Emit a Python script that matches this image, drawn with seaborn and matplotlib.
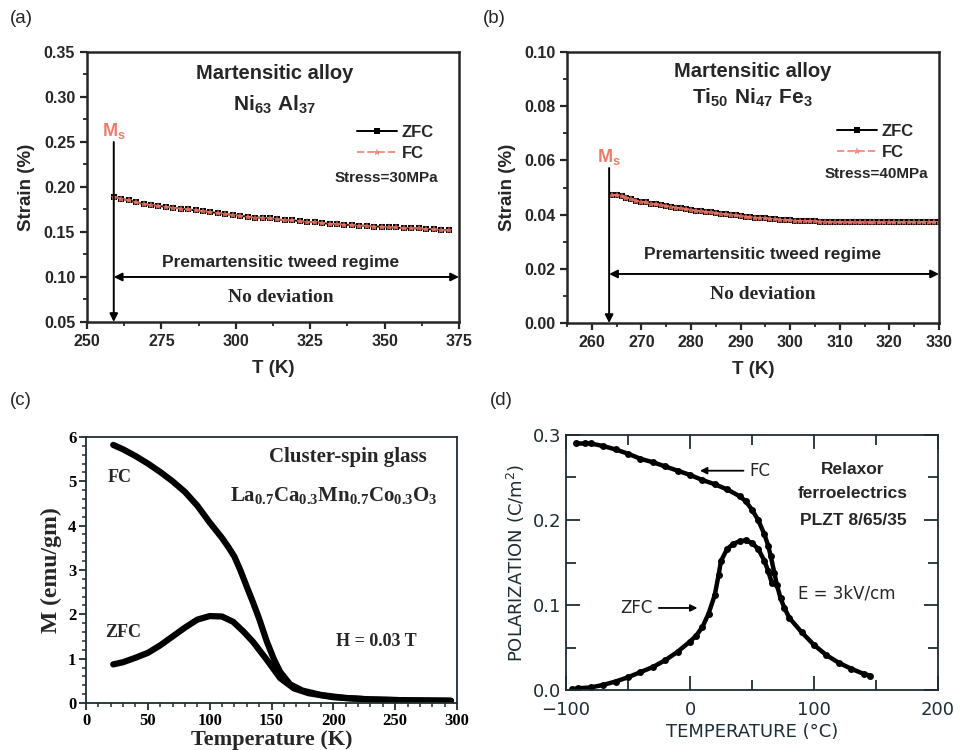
import numpy as np
import seaborn as sns
import matplotlib.pyplot as plt
from matplotlib.ticker import MultipleLocator

sns.set_style("ticks")
plt.rcParams['font.family'] = ['Liberation Sans', 'DejaVu Sans']
plt.rcParams['mathtext.fontset'] = 'custom'
plt.rcParams['mathtext.sf'] = 'Liberation Sans:bold'
plt.rcParams['mathtext.bf'] = 'Liberation Serif:bold'
plt.rcParams['mathtext.rm'] = 'DejaVu Sans'

# ---------- data ----------
# (a) Ni63Al37, 30 MPa
t_a = [259, 261.5, 264, 266.5, 269, 271.5, 274, 276.5, 279, 281.5, 284, 286.5,
       289, 291.5, 294, 296.5, 299, 301.5, 304, 306.5, 309, 311.5, 314, 316.5,
       319, 321.5, 324, 326.5, 329, 331.5, 334, 336.5, 339, 341.5, 344, 346.5,
       349, 351.5, 354, 356.5, 359, 361.5, 364, 366.5, 369, 371.5]
zfc_a = [0.189, 0.187, 0.185, 0.183, 0.181, 0.180, 0.179, 0.178, 0.177, 0.176,
         0.175, 0.174, 0.173, 0.172, 0.171, 0.170, 0.169, 0.168, 0.167, 0.166,
         0.166, 0.165, 0.164, 0.163, 0.163, 0.162, 0.161, 0.161, 0.160, 0.159,
         0.159, 0.158, 0.158, 0.157, 0.157, 0.156, 0.156, 0.155, 0.155, 0.154,
         0.154, 0.154, 0.153, 0.153, 0.152, 0.152]
fc_a = list(zfc_a)      # no deviation between ZFC and FC

# (b) Ti50Ni47Fe3, 40 MPa
t_b = [264, 265, 266, 267, 268, 269, 270, 271, 272, 273, 274, 275, 276, 277,
       278, 279, 280, 281, 282, 283, 284, 285, 286, 287, 288, 289, 290, 291,
       292, 293, 294, 295, 296, 297, 298, 299, 300, 301, 302, 303, 304, 305,
       306, 307, 308, 309, 310, 311, 312, 313, 314, 315, 316, 317, 318, 319,
       320, 321, 322, 323, 324, 325, 326, 327, 328, 329, 330]
zfc_b = [0.0473, 0.0472, 0.0468, 0.0463, 0.0458, 0.0452, 0.0448, 0.0445, 0.0441,
         0.0438, 0.0435, 0.0432, 0.0429, 0.0426, 0.0423, 0.0420, 0.0418, 0.0415,
         0.0413, 0.0410, 0.0408, 0.0406, 0.0403, 0.0401, 0.0399, 0.0397, 0.0395,
         0.0393, 0.0391, 0.0389, 0.0388, 0.0386, 0.0385, 0.0383, 0.0382, 0.0381,
         0.0379, 0.0378, 0.0377, 0.0376, 0.0376, 0.0375, 0.0374, 0.0374, 0.0373,
         0.0373, 0.0372, 0.0372, 0.0372, 0.0371, 0.0371, 0.0371, 0.0371, 0.0371,
         0.0371, 0.0371, 0.0371, 0.0371, 0.0371, 0.0372, 0.0372, 0.0372, 0.0372,
         0.0372, 0.0373, 0.0373, 0.0373]
fc_b = list(zfc_b)

# (c) cluster-spin glass La0.7Ca0.3Mn0.7Co0.3O3
t_c_fc = [22, 30, 40, 50, 60, 70, 80, 90, 100, 110, 115, 120, 125, 130, 135,
          140, 146, 152, 157, 165, 175, 190, 210, 230, 260, 295]
m_c_fc = [5.82, 5.72, 5.57, 5.40, 5.21, 5.00, 4.76, 4.45, 4.07, 3.72, 3.52,
          3.30, 2.98, 2.62, 2.27, 1.90, 1.40, 0.98, 0.70, 0.42, 0.28, 0.18,
          0.11, 0.08, 0.06, 0.05]
t_c_zfc = [22, 30, 40, 50, 60, 70, 80, 90, 100, 110, 119, 127, 135, 146, 157,
           168, 180, 200, 230, 260, 295]
m_c_zfc = [0.87, 0.92, 1.02, 1.13, 1.30, 1.50, 1.70, 1.88, 1.96, 1.95, 1.83,
           1.62, 1.38, 0.98, 0.56, 0.33, 0.22, 0.13, 0.08, 0.06, 0.05]

# (d) relaxor PLZT 8/65/35
t_d_fc = [-92, -85, -80, -70, -60, -50, -40, -30, -20, -10, 0, 10, 20, 30, 40,
          45, 50, 55, 60, 63, 65, 68, 70, 73, 76, 80, 90, 100, 110, 120, 130,
          140, 145]
p_d_fc = [0.290, 0.290, 0.290, 0.287, 0.283, 0.278, 0.272, 0.268, 0.263, 0.258,
          0.253, 0.247, 0.242, 0.236, 0.228, 0.222, 0.212, 0.200, 0.183, 0.170,
          0.158, 0.138, 0.124, 0.108, 0.097, 0.085, 0.068, 0.053, 0.041, 0.032,
          0.025, 0.019, 0.017]
t_d_zfc = [-95, -90, -80, -70, -60, -50, -40, -30, -20, -10, 0, 5, 10, 15, 20,
           23, 25, 30, 35, 40, 45, 50, 55, 60, 63, 66]
p_d_zfc = [0.001, 0.002, 0.003, 0.006, 0.010, 0.015, 0.021, 0.027, 0.035, 0.045,
           0.057, 0.064, 0.074, 0.090, 0.112, 0.135, 0.152, 0.166, 0.172, 0.175,
           0.176, 0.173, 0.166, 0.152, 0.140, 0.126]

# ---------- figure ----------
fig = plt.figure(figsize=(9.6, 7.5), dpi=100)
ax_a = fig.add_axes([0.0906, 0.5707, 0.3875, 0.360])
ax_b = fig.add_axes([0.5906, 0.5693, 0.3875, 0.3613])
ax_c = fig.add_axes([0.0896, 0.0627, 0.3865, 0.3547])
ax_d = fig.add_axes([0.5896, 0.0800, 0.3875, 0.3400])

RED = '#f07a68'
BOLD = dict(fontweight='bold')


def strain_panel(ax, t, zfc, fc, xlim, ylim, xmaj, ymaj, ms_x, ms_top,
                 arrow_y, title2, stress, fmt, txt):
    sns.lineplot(x=t, y=zfc, ax=ax, color='black', lw=1.4, marker='s',
                 markersize=4.5, markeredgewidth=0, label='ZFC')
    sns.lineplot(x=t, y=fc, ax=ax, color=RED, lw=1.4, ls='--', marker='*',
                 markersize=6, markeredgewidth=0, alpha=0.8, label='FC')
    ax.set_xlim(*xlim); ax.set_ylim(*ylim)
    ax.xaxis.set_major_locator(MultipleLocator(xmaj))
    ax.xaxis.set_minor_locator(MultipleLocator(xmaj / 2))
    ax.yaxis.set_major_locator(MultipleLocator(ymaj))
    ax.yaxis.set_minor_locator(MultipleLocator(ymaj / 2))
    ax.yaxis.set_major_formatter(plt.FormatStrFormatter(fmt))
    ax.tick_params(which='major', direction='out', length=5, width=1.6,
                   labelsize=11.5)
    ax.tick_params(which='minor', direction='out', length=3, width=1.3)
    for s in ax.spines.values():
        s.set_linewidth(1.8)
    plt.setp(ax.get_xticklabels() + ax.get_yticklabels(), fontweight='bold')
    ax.set_xlabel('T (K)', fontsize=13.5, fontweight='bold', labelpad=8)
    ax.set_ylabel('Strain (%)', fontsize=13.5, fontweight='bold', labelpad=6)

    # Ms arrow
    ax.annotate('', xy=(ms_x, ylim[0]), xytext=(ms_x, ms_top),
                arrowprops=dict(arrowstyle='-|>', color='black', lw=1.4,
                                mutation_scale=12, shrinkA=0, shrinkB=0))
    ax.text(ms_x, ms_top + (ylim[1] - ylim[0]) * 0.04, r'$\mathsf{M_s}$',
            color=RED, fontsize=13, ha='center', va='center')
    # regime arrow
    ax.annotate('', xy=(ms_x, arrow_y), xytext=(xlim[1], arrow_y),
                arrowprops=dict(arrowstyle='<|-|>', color='black', lw=1.4,
                                mutation_scale=12, shrinkA=0, shrinkB=0))
    tx, t1, t2, t3, t4, lx, ly, sy = txt
    ax.text(tx, t1, 'Martensitic alloy', ha='center', va='center',
            fontsize=14.5, **BOLD)
    ax.text(tx, t2, title2, ha='center', va='center', fontsize=15)
    ax.text(tx + 2, t3, 'Premartensitic tweed regime', ha='center',
            va='center', fontsize=12.5, **BOLD)
    ax.text(tx + 2, t4, 'No deviation', ha='center', va='center',
            fontsize=14, fontfamily='Liberation Serif', **BOLD)
    ax.text(lx, sy, stress, ha='right', va='center', fontsize=11, **BOLD)
    leg = ax.legend(loc='upper right', bbox_to_anchor=(0.955, ly),
                    frameon=False, handlelength=2.4, handletextpad=0.3,
                    borderpad=0, labelspacing=0.35,
                    prop=dict(weight='bold', size=12))
    return leg


strain_panel(ax_a, t_a, zfc_a, fc_a, (250, 375), (0.05, 0.35), 25, 0.05,
             259, 0.25, 0.10, r'$\mathsf{Ni_{63}\ Al_{37}}$', 'Stress=30MPa', '%.2f',
             (313, 0.326, 0.291, 0.1156, 0.0775, 368, 0.76, 0.21))
strain_panel(ax_b, t_b, zfc_b, fc_b, (255, 330), (0.0, 0.10), 10, 0.02,
             263.5, 0.0572, 0.0181, r'$\mathsf{Ti_{50}\ Ni_{47}\ Fe_{3}}$',
             'Stress=40MPa', '%.2f',
             (292.5, 0.0928, 0.083, 0.0252, 0.0104, 327.8, 0.765, 0.0549))

# ---------- (c) ----------
ax = ax_c
sns.lineplot(x=t_c_fc, y=m_c_fc, ax=ax, color='black', lw=4.5, sort=False)
sns.lineplot(x=t_c_zfc, y=m_c_zfc, ax=ax, color='black', lw=4.5, sort=False)
ax.set_xlim(0, 300); ax.set_ylim(0, 6)
ax.xaxis.set_major_locator(MultipleLocator(50))
ax.xaxis.set_minor_locator(MultipleLocator(10))
ax.yaxis.set_major_locator(MultipleLocator(1))
ax.yaxis.set_minor_locator(MultipleLocator(0.2))
ax.tick_params(which='major', direction='out', length=5, width=1.3,
               labelsize=12, colors='#1e2d33', pad=2)
ax.tick_params(which='minor', direction='out', length=3, width=1.1,
               colors='#1e2d33')
for s in ax.spines.values():
    s.set_linewidth(1.3); s.set_color('#1e2d33')
plt.setp(ax.get_xticklabels() + ax.get_yticklabels(),
         fontfamily='Liberation Serif', fontweight='bold', color='black')
ax.set_xlabel('Temperature (K)', fontsize=16, fontfamily='Liberation Serif',
              fontweight='bold', labelpad=1)
ax.set_ylabel('M (emu/gm)', fontsize=17, fontfamily='Liberation Serif',
              fontweight='bold', labelpad=4)
SERIF = dict(fontfamily='Liberation Serif', fontweight='bold')
ax.text(212, 5.55, 'Cluster-spin glass', ha='center', va='center',
        fontsize=15, **SERIF)
ax.text(200, 4.69, r'$\mathbf{La_{0.7}Ca_{0.3}Mn_{0.7}Co_{0.3}O_3}$',
        ha='center', va='center', fontsize=15)
ax.text(27.5, 5.09, 'FC', ha='center', va='center', fontsize=13, **SERIF)
ax.text(30, 1.58, 'ZFC', ha='center', va='center', fontsize=13, **SERIF)
ax.text(235, 1.38, 'H = 0.03 T', ha='center', va='center', fontsize=13,
        **SERIF)

# ---------- (d) ----------
ax = ax_d
sns.lineplot(x=t_d_fc, y=p_d_fc, ax=ax, color='black', lw=3.2, marker='o',
             markersize=5, markeredgewidth=0, sort=False)
sns.lineplot(x=t_d_zfc, y=p_d_zfc, ax=ax, color='black', lw=3.2, marker='o',
             markersize=5, markeredgewidth=0, sort=False)
ax.set_xlim(-100, 200); ax.set_ylim(0, 0.3)
ax.set_xticks([-100, 0, 100, 200])
ax.set_xticklabels(['\u2212100', '0', '100', '200'])
ax.xaxis.set_minor_locator(MultipleLocator(50))
ax.set_yticks([0, 0.1, 0.2, 0.3])
ax.set_yticklabels(['0.0', '0.1', '0.2', '0.3'])
ax.yaxis.set_minor_locator(MultipleLocator(0.05))
ax.tick_params(which='both', direction='in', top=True, right=True,
               width=1.3, labelsize=13, colors='#1e2d33')
ax.tick_params(axis='x', pad=8)
ax.tick_params(which='major', length=10)
ax.tick_params(which='minor', length=7)
for s in ax.spines.values():
    s.set_linewidth(1.3); s.set_color('#1e2d33')
plt.setp(ax.get_xticklabels() + ax.get_yticklabels(),
         fontfamily='DejaVu Sans', color='#1e2d33')
ax.set_xlabel('TEMPERATURE (\u00b0C)', fontsize=13, labelpad=3,
              fontfamily='DejaVu Sans', color='#1e2d33')
ax.set_ylabel(r'POLARIZATION (C/m$^2$)', fontsize=13, labelpad=4,
              fontfamily='DejaVu Sans', color='#1e2d33')
for y, s in [(0.259, 'Relaxor'), (0.231, 'ferroelectrics'),
             (0.199, 'PLZT 8/65/35')]:
    ax.text(131.5, y, s, ha='center', va='center', fontsize=12.5, **BOLD)
ax.annotate('FC', xy=(8, 0.258), xytext=(48, 0.258), fontsize=12,
            fontfamily='DejaVu Sans', va='center', ha='left',
            arrowprops=dict(arrowstyle='-|>', color='black', lw=1.3,
                            mutation_scale=10, shrinkA=2, shrinkB=0))
ax.annotate('ZFC', xy=(6, 0.0965), xytext=(-30, 0.0965), fontsize=12,
            fontfamily='DejaVu Sans', va='center', ha='right',
            arrowprops=dict(arrowstyle='-|>', color='black', lw=1.3,
                            mutation_scale=10, shrinkA=2, shrinkB=0))
ax.text(126, 0.114, 'E = 3kV/cm', ha='center', va='center', fontsize=12,
        fontfamily='DejaVu Sans')

# panel letters
for x, y, s in [(0.010, 0.975, '(a)'), (0.503, 0.975, '(b)'),
                (0.010, 0.466, '(c)'), (0.510, 0.466, '(d)')]:
    fig.text(x, y, s, fontsize=13.5, ha='left', va='center')

fig.savefig('out.png', dpi=100)
